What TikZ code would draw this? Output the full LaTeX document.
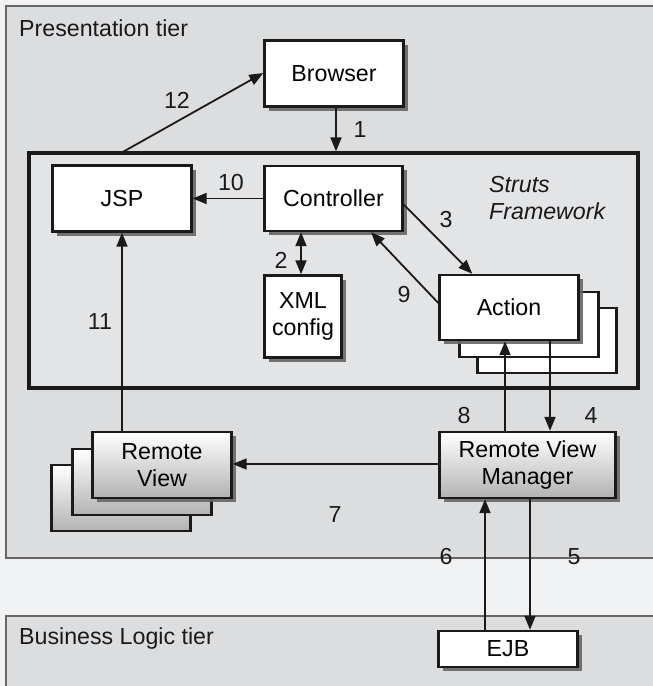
\documentclass[tikz,border=0pt]{standalone}
\usepackage{fontspec}
\setmainfont{Liberation Sans}
\usetikzlibrary{arrows.meta,shadows,calc}
\definecolor{bgc}{HTML}{F1F2F4}
\definecolor{panelc}{HTML}{DCDDDF}
\definecolor{innerc}{HTML}{E3E4E6}
\definecolor{edgec}{HTML}{1A1A1A}
\definecolor{panelline}{HTML}{666666}
\newcommand{\lblfont}{\fontsize{23.2}{27}\selectfont}
\begin{document}
\begin{tikzpicture}[x=1pt,y=-1pt,
  shadowed/.style={drop shadow={shadow xshift=4pt,shadow yshift=-4pt,fill=black!60,opacity=0.9}},
  wbox/.style={draw=edgec,line width=2.4pt,fill=white,inner sep=0pt,align=center,font=\lblfont},
  gbox/.style={draw=edgec,line width=2.4pt,top color=white,bottom color=black!30,inner sep=0pt,align=center,font=\lblfont},
  arr/.style={-{Triangle[length=14pt,width=11pt]},line width=1.8pt,draw=edgec},
  darr/.style={{Triangle[length=14pt,width=11pt]}-{Triangle[length=14pt,width=11pt]},line width=1.8pt,draw=edgec},
  num/.style={font=\lblfont,inner sep=0pt,text=edgec},
  tier/.style={font=\lblfont,inner sep=0pt,anchor=west,text=edgec}]
\useasboundingbox (0,0) rectangle (653,686);
\clip (0,0) rectangle (653,686);
\fill[bgc] (0,0) rectangle (653,686);
% tiers
\draw[fill=panelc,draw=panelline,line width=1.8pt] (6,6) rectangle (670,558);
\draw[fill=panelc,draw=panelline,line width=1.8pt] (6,616) rectangle (670,700);
\node[tier] (pres) at (19,28) {Presentation tier};
\node[tier] (biz) at (19,638) {Business Logic tier};
% struts frame
\node[draw=edgec,line width=3.2pt,fill=innerc,minimum width=609pt,minimum height=235pt,inner sep=0pt] (struts) at (333.5,270.5) {};
\node[font=\lblfont\itshape,align=left,anchor=west,inner sep=0pt,text=edgec] (stxt) at (489,198.5) {Struts\\Framework};
% boxes
\node[wbox,shadowed,minimum width=139pt,minimum height=66pt] (browser) at (334,73.5) {Browser};
\node[wbox,shadowed,minimum width=139pt,minimum height=66pt] (jsp) at (122,198.5) {JSP};
\node[wbox,shadowed,minimum width=138pt,minimum height=65pt] (ctrl) at (333.5,198.5) {Controller};
\node[wbox,shadowed,minimum width=77pt,minimum height=82pt] (xml) at (303,316.5) {XML\\config};
\node[wbox,minimum width=139pt,minimum height=65pt] (act3) at (547,340.5) {};
\node[wbox,minimum width=139pt,minimum height=65pt] (act2) at (529,324.5) {};
\node[wbox,shadowed,minimum width=139pt,minimum height=65pt] (act) at (509,307.5) {Action};
\node[gbox,minimum width=139pt,minimum height=66pt] (rv3) at (121,498) {};
\node[gbox,minimum width=139pt,minimum height=66pt] (rv2) at (142,482) {};
\node[gbox,shadowed,minimum width=139pt,minimum height=66pt] (rv) at (162,465) {Remote\\View};
\node[gbox,shadowed,minimum width=176pt,minimum height=66pt] (rvm) at (527.5,465) {Remote View\\Manager};
\node[wbox,shadowed,minimum width=139pt,minimum height=36pt] (ejb) at (508,649) {EJB};
% connectors
\coordinate (c12) at (121,153);
\draw[arr] ([xshift=2pt]browser.south) -- ([xshift=2pt]browser.south |- struts.north);
\draw[arr] (c12) -- ([yshift=0.5pt]browser.west);
\draw[arr] (ctrl.west) -- (jsp.east);
\draw[arr] ([yshift=-6pt]ctrl.east) -- ([xshift=34pt]act.north west);
\draw[arr] ([yshift=4.5pt]act.west) -- ([xshift=37.5pt]ctrl.south);
\draw[darr] ([xshift=-2pt]xml.north |- ctrl.south) -- ([xshift=-2pt]xml.north);
\draw[arr] (jsp.south |- rv.north) -- (jsp.south);
\draw[arr] ([xshift=-4pt]act.south |- rvm.north) -- ([xshift=-4pt]act.south);
\draw[arr] ([xshift=41pt]act.south) -- ([xshift=41pt]act.south |- rvm.north);
\draw[arr] ([yshift=1pt]rvm.west) -- ([yshift=1pt]rv.east);
\draw[arr] ([xshift=-23pt]ejb.north) -- ([xshift=-23pt]ejb.north |- rvm.south);
\draw[arr] ([xshift=22pt]ejb.north |- rvm.south) -- ([xshift=22pt]ejb.north);
% labels
\node[num] (l1) at (360,130) {1};
\node[num] (l12) at (177,100) {12};
\node[num] (l10) at (231,183) {10};
\node[num] (l3) at (446,220) {3};
\node[num] (l9) at (404,295) {9};
\node[num] (l2) at (281,260) {2};
\node[num] (l11) at (100,322) {11};
\node[num] (l8) at (464,416) {8};
\node[num] (l4) at (591,416) {4};
\node[num] (l7) at (335,515) {7};
\node[num] (l6) at (446,557) {6};
\node[num] (l5) at (574,557) {5};
\end{tikzpicture}
\end{document}
